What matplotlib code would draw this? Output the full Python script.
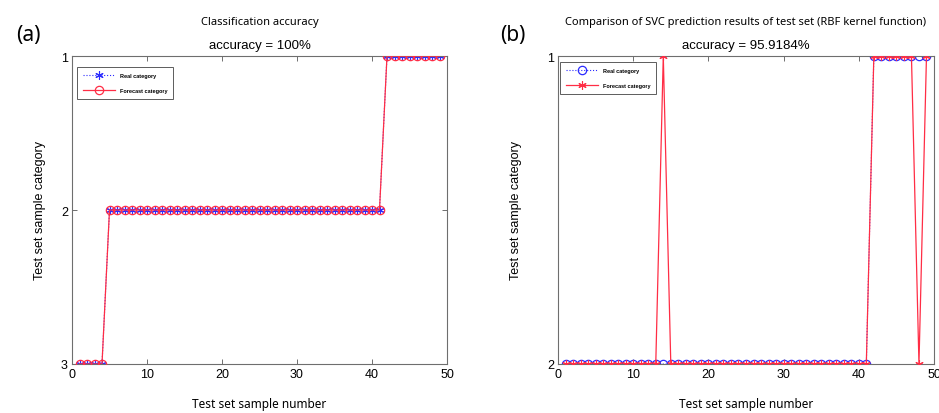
import matplotlib
matplotlib.use("Agg")
import matplotlib.pyplot as plt

# sample numbers of the test set
samples = list(range(1, 50))

# panel (a): classification accuracy 100 %
real_a = [3, 3, 3, 3,
          2, 2, 2, 2, 2, 2, 2, 2, 2, 2, 2, 2, 2, 2, 2, 2, 2, 2, 2, 2, 2,
          2, 2, 2, 2, 2, 2, 2, 2, 2, 2, 2, 2, 2, 2, 2, 2,
          1, 1, 1, 1, 1, 1, 1, 1]
pred_a = [3, 3, 3, 3,
          2, 2, 2, 2, 2, 2, 2, 2, 2, 2, 2, 2, 2, 2, 2, 2, 2, 2, 2, 2, 2,
          2, 2, 2, 2, 2, 2, 2, 2, 2, 2, 2, 2, 2, 2, 2, 2,
          1, 1, 1, 1, 1, 1, 1, 1]

# panel (b): SVC (RBF) prediction, 95.9184 %
real_b = [2, 2, 2, 2, 2, 2, 2, 2, 2, 2, 2, 2, 2, 2, 2, 2, 2, 2, 2, 2,
          2, 2, 2, 2, 2, 2, 2, 2, 2, 2, 2, 2, 2, 2, 2, 2, 2, 2, 2, 2, 2,
          1, 1, 1, 1, 1, 1, 1, 1]
pred_b = [2, 2, 2, 2, 2, 2, 2, 2, 2, 2, 2, 2, 2, 1, 2, 2, 2, 2, 2, 2,
          2, 2, 2, 2, 2, 2, 2, 2, 2, 2, 2, 2, 2, 2, 2, 2, 2, 2, 2, 2, 2,
          1, 1, 1, 1, 1, 1, 2, 1]

x_ticks = [0, 10, 20, 30, 40, 50]

BLUE = "#2b2bff"
RED = "#ff2d45"
SPINE = "#6e6e6e"
ASTERISK = (6, 2, 0)   # matlab-style '*'
W, H = 939, 414

plt.rcParams.update({"font.family": ["Liberation Sans", "DejaVu Sans"]})
fig = plt.figure(figsize=(W / 100, H / 100), dpi=100)


def px_ax(l, r, t, b):
    return fig.add_axes([l / W, 1 - b / H, (r - l) / W, (b - t) / H])


def style(ax):
    ax.tick_params(direction="in", top=True, right=True, length=3.5,
                   width=0.7, color=SPINE, labelsize=9, pad=3)
    for s in ax.spines.values():
        s.set_color(SPINE)
        s.set_linewidth(0.8)
    ax.set_xlim(0, 50)
    ax.set_xticks(x_ticks)


def add_legend(ax, x0, y0):
    leg = ax.legend(loc="upper left", bbox_to_anchor=(x0 / W, 1 - y0 / H),
                    bbox_transform=fig.transFigure,
                    prop={"family": ["Liberation Sans Narrow", "Liberation Sans"],
                          "size": 4.0, "weight": "bold"},
                    fancybox=False, edgecolor="#333333", handlelength=5.8,
                    borderpad=1.1, labelspacing=1.7, handletextpad=0.8,
                    borderaxespad=0)
    leg.get_frame().set_linewidth(0.7)


# ---- (a)
axA = px_ax(72, 447, 57, 365)
axA.plot(samples, real_a, ":", color=BLUE, lw=0.8, marker=ASTERISK, ms=6,
         mec=BLUE, mew=0.8, label="Real category", zorder=2)
axA.plot(samples, pred_a, "-", color=RED, lw=0.9, marker="o", ms=6,
         mec=RED, mfc="none", mew=0.9, label="Forecast category", zorder=3)
axA.set_ylim(3, 1)
axA.set_yticks([1, 2, 3])
style(axA)
add_legend(axA, 77, 68)

# ---- (b)
axB = px_ax(558, 934, 57, 365)
axB.plot(samples, real_b, ":", color=BLUE, lw=0.8, marker="o", ms=6,
         mec=BLUE, mfc="none", mew=0.9, label="Real category", zorder=2)
axB.plot(samples, pred_b, "-", color=RED, lw=0.9, marker=ASTERISK, ms=6,
         mec=RED, mew=0.8, label="Forecast category", zorder=3)
axB.set_ylim(2, 1)
axB.set_yticks([1, 2])
style(axB)
add_legend(axB, 560, 63)

# ---- texts
noto = ["Noto Sans", "DejaVu Sans"]
for cx, ttl, acc in [(259.5, "Classification accuracy", "accuracy = 100%"),
                     (746, "Comparison of SVC prediction results of test set (RBF kernel function)",
                      "accuracy = 95.9184%")]:
    fig.text(cx / W, 1 - 22 / H, ttl, ha="center", va="center", fontsize=8, family=noto)
    fig.text(cx / W, 1 - 46 / H, acc, ha="center", va="center", fontsize=9.5)
    fig.text(cx / W, 1 - 405 / H, "Test set sample number", ha="center", va="center",
             fontsize=8.5, family=noto)

fig.text(28 / W, 1 - 35 / H, "(a)", ha="center", va="center", fontsize=15, family=noto)
fig.text(513 / W, 1 - 35 / H, "(b)", ha="center", va="center", fontsize=15, family=noto)
fig.text(40 / W, 1 - 211 / H, "Test set sample category", rotation=90,
         ha="center", va="center", fontsize=9)
fig.text(516 / W, 1 - 211 / H, "Test set sample category", rotation=90,
         ha="center", va="center", fontsize=9)

fig.savefig("out.png", dpi=100)
